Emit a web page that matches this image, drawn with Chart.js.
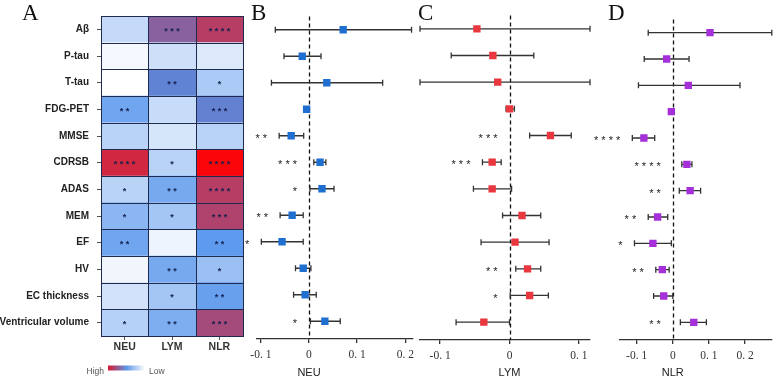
<!DOCTYPE html>
<html>
<head>
<meta charset="utf-8">
<script src="https://cdn.jsdelivr.net/npm/chart.js@4.4.1/dist/chart.umd.min.js"></script>
<style>
  html, body { margin: 0; padding: 0; background: #fff; }
  #wrap { position: relative; width: 777px; height: 379px; overflow: hidden; }
  #wrap canvas { position: absolute; left: 0; top: 0; }
</style>
</head>
<body>
<div id="wrap">
  <canvas id="heat" width="777" height="379"></canvas>
  <canvas id="neu" width="777" height="379"></canvas>
  <canvas id="lym" width="777" height="379"></canvas>
  <canvas id="nlr" width="777" height="379"></canvas>
</div>
<script>
// --- Data ---
const rows = ['Aβ', 'P-tau', 'T-tau', 'FDG-PET', 'MMSE', 'CDRSB', 'ADAS', 'MEM', 'EF', 'HV', 'EC thickness', 'Ventricular volume'];
const cols = ['NEU', 'LYM', 'NLR'];

// heatmap level: 0 = low (white) ... 1 = high (red)
const heatNEU = [0.17, 0.03, 0.00, 0.41, 0.20, 0.88, 0.20, 0.33, 0.41, 0.04, 0.13, 0.21];
const heatLYM = [0.67, 0.14, 0.55, 0.16, 0.12, 0.20, 0.39, 0.26, 0.05, 0.39, 0.26, 0.37];
const heatNLR = [0.80, 0.10, 0.24, 0.56, 0.20, 1.00, 0.80, 0.78, 0.46, 0.29, 0.43, 0.75];
const heatStarsNEU = [0, 0, 0, 2, 0, 4, 1, 1, 2, 0, 0, 1];
const heatStarsLYM = [3, 0, 2, 0, 0, 1, 2, 1, 0, 2, 1, 2];
const heatStarsNLR = [4, 0, 1, 3, 0, 4, 4, 3, 2, 1, 2, 3];

// forest plots: estimate, lower, upper, significance stars
const neuEst  = [0.071, -0.014, 0.037, -0.005, -0.037, 0.023, 0.027, -0.035, -0.056, -0.012, -0.008, 0.033];
const neuLow  = [-0.070, -0.052, -0.078, -0.009, -0.062, 0.010, 0.002, -0.060, -0.099, -0.028, -0.032, 0.003];
const neuHigh = [0.213, 0.025, 0.153, 0.000, -0.011, 0.035, 0.052, -0.012, -0.012, 0.004, 0.015, 0.065];
const neuSig  = [0, 0, 0, 0, 2, 3, 1, 2, 1, 0, 0, 1];
const neuTicks = [-0.1, 0, 0.1, 0.2];

const lymEst  = [-0.047, -0.024, -0.017, 0.000, 0.059, -0.025, -0.025, 0.018, 0.008, 0.026, 0.029, -0.037];
const lymLow  = [-0.130, -0.084, -0.130, -0.005, 0.029, -0.039, -0.052, -0.010, -0.041, 0.009, 0.001, -0.077];
const lymHigh = [0.116, 0.035, 0.116, 0.007, 0.089, -0.012, 0.003, 0.045, 0.057, 0.045, 0.056, 0.000];
const lymSig  = [0, 0, 0, 0, 3, 3, 0, 0, 0, 2, 1, 0];
const lymTicks = [-0.1, 0, 0.1];

const nlrEst  = [0.103, -0.017, 0.043, -0.004, -0.080, 0.039, 0.048, -0.042, -0.055, -0.029, -0.025, 0.058];
const nlrLow  = [-0.068, -0.079, -0.095, -0.010, -0.112, 0.025, 0.018, -0.068, -0.106, -0.047, -0.053, 0.021];
const nlrHigh = [0.274, 0.045, 0.186, 0.001, -0.050, 0.053, 0.077, -0.014, -0.004, -0.010, 0.000, 0.093];
const nlrSig  = [0, 0, 0, 0, 4, 4, 2, 2, 1, 2, 0, 2];
const nlrTicks = [-0.1, 0, 0.1, 0.2];

Chart.defaults.font.family = '"Liberation Sans", Arial, sans-serif';
Chart.defaults.color = '#222';

function heatColor(v) {
    const white = [255, 255, 255], blue = [80, 145, 235], red = [250, 5, 10];
    let a, b, t;
    if (v <= 0.5) { a = white; b = blue; t = v / 0.5; } else { a = blue; b = red; t = (v - 0.5) / 0.5; }
    return `rgb(${a.map((c, i) => Math.round(c + (b[i] - c) * t)).join(',')})`;
}

const starText = n => Array(n).fill('*').join(' ');

// panel letter (A, B, C, D)
const letterPlugin = {
    id: 'letter',
    afterDraw(chart, args, opts) {
        const ctx = chart.ctx;
        ctx.save();
        ctx.font = '23px "Liberation Serif", serif';
        ctx.fillStyle = '#111';
        ctx.textAlign = 'left';
        ctx.textBaseline = 'alphabetic';
        ctx.fillText(opts.text, opts.x, 20);
        ctx.restore();
    }
};

// --- Heatmap (A) ---
const heatPlugin = {
    id: 'heatcells',
    afterDatasetsDraw(chart) {
        const ctx = chart.ctx;
        ctx.save();
        chart.data.datasets.forEach((ds, di) => {
            chart.getDatasetMeta(di).data.forEach((el, i) => {
                const l = Math.round(Math.min(el.x, el.base)), r = Math.round(Math.max(el.x, el.base));
                const t = Math.round(el.y - el.height / 2), b = Math.round(el.y + el.height / 2);
                ctx.strokeStyle = '#1e2b4f';
                ctx.lineWidth = 1;
                ctx.strokeRect(l + 0.5, t + 0.5, r - l, b - t);
                const n = ds.stars[i];
                if (n) {
                    ctx.fillStyle = '#14224f';
                    ctx.font = 'bold 9px "Liberation Sans", sans-serif';
                    ctx.textAlign = 'center';
                    ctx.textBaseline = 'middle';
                    ctx.fillText(starText(n), (l + r) / 2, el.y + 2);
                }
            });
        });
        ctx.restore();
    },
    afterDraw(chart) {
        const ctx = chart.ctx, ca = chart.chartArea;
        const gx = ca.left + 7, gy = 365.5, gw = 37, gh = 5;
        ctx.save();
        const g = ctx.createLinearGradient(gx, 0, gx + gw, 0);
        g.addColorStop(0, '#d8182f');
        g.addColorStop(0.5, '#5d97e6');
        g.addColorStop(1, '#ffffff');
        ctx.fillStyle = g;
        ctx.fillRect(gx, gy, gw, gh);
        ctx.fillStyle = '#555';
        ctx.font = '8.5px "Liberation Sans", sans-serif';
        ctx.textBaseline = 'middle';
        ctx.textAlign = 'right';
        ctx.fillText('High', gx - 4, gy + 6);
        ctx.textAlign = 'left';
        ctx.fillText('Low', gx + gw + 4, gy + 6);
        ctx.restore();
    }
};

new Chart(document.getElementById('heat'), {
    type: 'bar',
    data: {
        labels: rows,
        datasets: [heatNEU, heatLYM, heatNLR].map((vals, c) => ({
            label: cols[c],
            data: vals.map(() => [c, c + 1]),
            backgroundColor: vals.map(heatColor),
            stars: [heatStarsNEU, heatStarsLYM, heatStarsNLR][c],
            borderWidth: 0,
            barPercentage: 1,
            categoryPercentage: 1,
            grouped: false
        }))
    },
    options: {
        indexAxis: 'y',
        responsive: false,
        animation: false,
        layout: { padding: { left: 0, top: 16, right: 534, bottom: 23 } },
        plugins: { legend: { display: false }, tooltip: { enabled: false }, letter: { text: 'A', x: 22 } },
        scales: {
            x: {
                type: 'linear', min: 0, max: 3,
                afterBuildTicks: s => { s.ticks = cols.map((c, i) => ({ value: i + 0.5 })); },
                afterFit: s => { s.height = 20; },
                ticks: { callback: (v, i) => cols[i], font: { weight: 'bold', size: 10.5 }, color: '#333', padding: 1, maxRotation: 0, autoSkip: false },
                grid: { drawOnChartArea: false, tickLength: 4, color: '#555' },
                border: { display: false }
            },
            y: {
                afterFit: s => { s.width = 101; },
                ticks: { font: { weight: 'bold', size: 10 }, color: '#222', padding: 8, autoSkip: false },
                grid: { drawOnChartArea: false, tickLength: 4, color: '#555', offset: false },
                border: { display: false }
            }
        }
    },
    plugins: [heatPlugin, letterPlugin]
});

// --- Forest plots (B, C, D) ---
const forestPlugin = {
    id: 'forest',
    beforeDatasetsDraw(chart) {
        const { ctx, chartArea: ca, scales: { x, y } } = chart;
        const ds = chart.data.datasets[0];
        ctx.save();
        const x0 = Math.round(x.getPixelForValue(0)) + 0.5;
        ctx.strokeStyle = '#111';
        ctx.lineWidth = 1.3;
        ctx.setLineDash([4, 3]);
        ctx.beginPath();
        ctx.moveTo(x0, ca.top);
        ctx.lineTo(x0, ca.bottom);
        ctx.stroke();
        ctx.setLineDash([]);
        ctx.strokeStyle = '#333';
        ds.low.forEach((lo, i) => {
            const hi = ds.high[i];
            const yy = y.getPixelForValue(i);
            const x1 = x.getPixelForValue(Math.max(lo, x.min)), x2 = x.getPixelForValue(Math.min(hi, x.max));
            ctx.beginPath();
            ctx.moveTo(x1, yy); ctx.lineTo(x2, yy);
            ctx.moveTo(x1, yy - 3); ctx.lineTo(x1, yy + 3);
            ctx.moveTo(x2, yy - 3); ctx.lineTo(x2, yy + 3);
            ctx.stroke();
        });
        ctx.restore();
    },
    afterDatasetsDraw(chart) {
        const { ctx, scales: { x, y } } = chart;
        const ds = chart.data.datasets[0];
        ctx.save();
        ctx.fillStyle = '#222';
        ctx.font = '11px "Liberation Sans", sans-serif';
        ctx.textAlign = 'right';
        ctx.textBaseline = 'middle';
        ds.sig.forEach((n, i) => {
            if (!n) return;
            const edge = Math.min(x.getPixelForValue(ds.low[i]), x.getPixelForValue(0));
            ctx.fillText(starText(n), edge - 12, y.getPixelForValue(i) + 3);
        });
        ctx.textAlign = 'center';
        ctx.font = '11px "Liberation Sans", sans-serif';
        ctx.fillText(ds.label, x.getPixelForValue(0), 373);
        ctx.restore();
    }
};

function forestChart(id, name, est, low, high, sig, ticks, color, xmin, xmax, area, letter) {
    return new Chart(document.getElementById(id), {
        type: 'scatter',
        data: {
            datasets: [{
                label: name,
                data: est.map((v, i) => ({ x: v, y: i })),
                low: low, high: high, sig: sig,
                pointStyle: 'rect',
                pointRadius: 5.2,
                pointBorderWidth: 0,
                backgroundColor: color,
                borderColor: color
            }]
        },
        options: {
            responsive: false,
            animation: false,
            layout: { padding: { left: area.left, right: 777 - area.right, top: area.top, bottom: 379 - area.bottom - 40 } },
            plugins: { legend: { display: false }, tooltip: { enabled: false }, letter: { text: letter.text, x: letter.x } },
            scales: {
                x: {
                    type: 'linear', min: xmin, max: xmax,
                    afterBuildTicks: s => { s.ticks = ticks.map(v => ({ value: v })); },
                    afterFit: s => { s.height = 40; },
                    ticks: {
                        callback: v => v === 0 ? '0' : (v < 0 ? '-' : '') + Math.abs(v).toFixed(1).replace('.', '. '),
                        font: { family: '"Liberation Serif", serif', size: 11.5 },
                        color: '#333', padding: 5, maxRotation: 0, autoSkip: false
                    },
                    grid: { drawOnChartArea: false, tickLength: 4, color: '#333', lineWidth: 1.3 },
                    border: { display: true, color: '#333', width: 1.3 }
                },
                y: { display: false, reverse: true, min: -0.5, max: 11.67 }
            }
        },
        plugins: [forestPlugin, letterPlugin]
    });
}

forestChart('neu', 'NEU', neuEst, neuLow, neuHigh, neuSig, neuTicks, '#1f6fd1', -0.108, 0.215,
    { left: 257, right: 412.5, top: 16.5, bottom: 339 }, { text: 'B', x: 251 });
forestChart('lym', 'LYM', lymEst, lymLow, lymHigh, lymSig, lymTicks, '#e8373f', -0.129, 0.116,
    { left: 420, right: 590, top: 15.5, bottom: 340 }, { text: 'C', x: 418 });
forestChart('nlr', 'NLR', nlrEst, nlrLow, nlrHigh, nlrSig, nlrTicks, '#a52fd8', -0.148, 0.274,
    { left: 619.3, right: 775.3, top: 19.5, bottom: 340 }, { text: 'D', x: 608 });
</script>
</body>
</html>
